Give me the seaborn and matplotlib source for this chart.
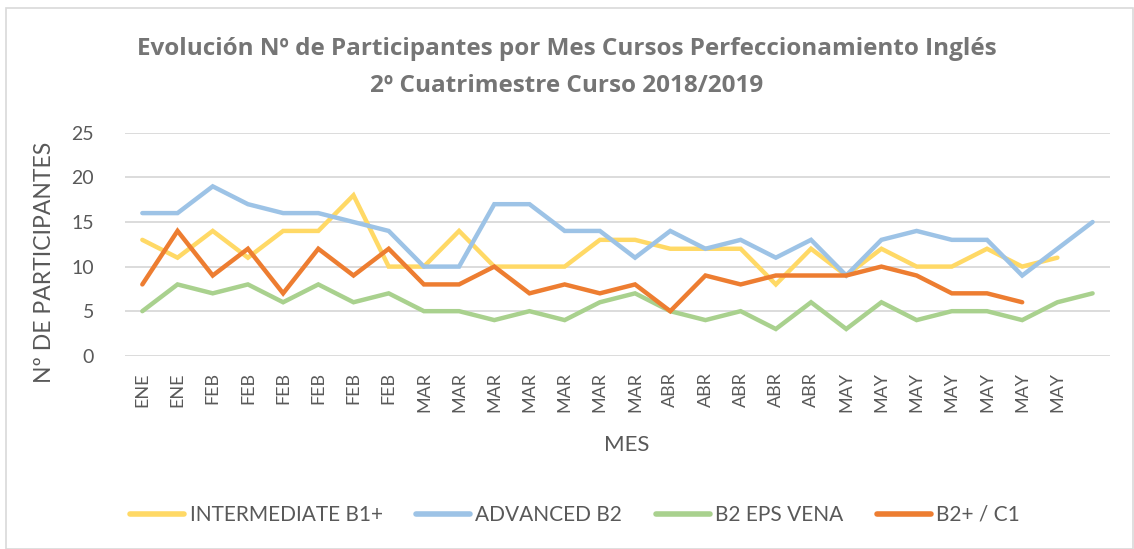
import matplotlib
matplotlib.use("Agg")
import matplotlib.pyplot as plt
import matplotlib.patches as patches
import pandas as pd
import seaborn as sns
import numpy as np

# etiquetas del eje x (la ultima categoria no tiene etiqueta)
meses = ["ENE", "ENE", "FEB", "FEB", "FEB", "FEB", "FEB", "FEB",
         "MAR", "MAR", "MAR", "MAR", "MAR", "MAR", "MAR",
         "ABR", "ABR", "ABR", "ABR", "ABR",
         "MAY", "MAY", "MAY", "MAY", "MAY", "MAY", "MAY", ""]

intermediate_b1 = [13, 11, 14, 11, 14, 14, 18, 10, 10, 14, 10, 10, 10, 13,
                   13, 12, 12, 12, 8, 12, 9, 12, 10, 10, 12, 10, 11, np.nan]
advanced_b2 = [16, 16, 19, 17, 16, 16, 15, 14, 10, 10, 17, 17, 14, 14,
               11, 14, 12, 13, 11, 13, 9, 13, 14, 13, 13, 9, 12, 15]
b2_eps_vena = [5, 8, 7, 8, 6, 8, 6, 7, 5, 5, 4, 5, 4, 6,
               7, 5, 4, 5, 3, 6, 3, 6, 4, 5, 5, 4, 6, 7]
b2_c1 = [8, 14, 9, 12, 7, 12, 9, 12, 8, 8, 10, 7, 8, 7,
         8, 5, 9, 8, 9, 9, 9, 10, 9, 7, 7, 6, np.nan, np.nan]

series = ["INTERMEDIATE B1+", "ADVANCED B2", "B2 EPS VENA", "B2+ / C1"]
colores = ["#FFD966", "#9DC3E6", "#A9D18E", "#ED7D31"]

idx = np.arange(len(meses))
df = pd.concat([
    pd.DataFrame({"pos": idx, "valor": vals, "serie": name})
    for name, vals in zip(series, [intermediate_b1, advanced_b2, b2_eps_vena, b2_c1])
]).dropna()

sns.set_style("white")
plt.rcParams["font.family"] = ["Lato", "DejaVu Sans"]
gris = "#595959"

fig = plt.figure(figsize=(11.34, 5.49), dpi=100)
ax = fig.add_axes([0.110, 0.352, 0.869, 0.406])

sns.lineplot(data=df, x="pos", y="valor", hue="serie", hue_order=series,
             palette=colores, linewidth=3.2, ax=ax, legend=False,
             solid_capstyle="round", solid_joinstyle="miter")

ax.set_xlim(-0.5, len(meses) - 0.5)
ax.set_ylim(0, 25)
ax.set_yticks([0, 5, 10, 15, 20, 25])
ax.set_xticks(idx)
ax.set_xticklabels(meses, rotation=90, fontsize=13)
ax.tick_params(axis="both", length=0, colors=gris)
ax.tick_params(axis="y", pad=22, labelsize=14)
ax.tick_params(axis="x", pad=12)
ax.grid(axis="y", color="#D9D9D9", linewidth=1.3)
ax.set_axisbelow(True)
for s in ax.spines.values():
    s.set_visible(False)

ax.set_xlabel("MES", color=gris, fontsize=16)
ax.set_ylabel("Nº DE PARTICIPANTES", color=gris, fontsize=16.5)
ax.xaxis.set_label_coords(0.509, -0.355)
ax.yaxis.set_label_coords(-0.071, 0.42)

titulo = dict(ha="center", va="center", fontsize=17.5, fontweight="bold",
              color="#757575", family=["Open Sans", "DejaVu Sans"])
fig.text(0.5, 0.910, "Evolución Nº de Participantes por Mes Cursos Perfeccionamiento Inglés", **titulo)
fig.text(0.5, 0.843, "2º Cuatrimestre Curso 2018/2019", **titulo)

# leyenda abajo
handles = [plt.Line2D([0], [0], color=c, linewidth=4, solid_capstyle="round") for c in colores]
fig.legend(handles, series, loc="center", bbox_to_anchor=(0.507, 0.062), ncol=4,
           frameon=False, fontsize=15, labelcolor=gris, handlelength=2.6,
           handletextpad=0.25, columnspacing=1.6)

# marco del grafico
fig.patches.append(patches.Rectangle((0.005, 0.0), 0.994, 0.985, transform=fig.transFigure,
                                     fill=False, edgecolor="#D9D9D9", linewidth=1.2))

plt.savefig("out.png", dpi=100)
